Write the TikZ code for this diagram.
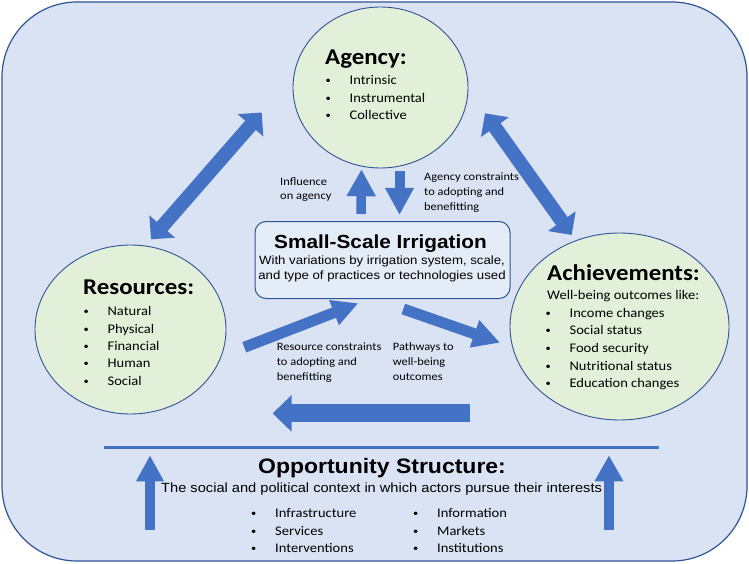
\documentclass[tikz,border=0pt]{standalone}
\usepackage{fontspec}
\setmainfont{Carlito}[FakeStretch=1.1]
\newfontfamily\arialfont{Liberation Sans}[FakeStretch=1.1]
\usetikzlibrary{arrows.meta,shapes.geometric}
\definecolor{framefill}{HTML}{DAE3F3}
\definecolor{frameline}{HTML}{2F5597}
\definecolor{bubblefill}{HTML}{E2F0D9}
\definecolor{boxfill}{HTML}{E4ECF8}
\definecolor{arrowblue}{HTML}{4472C4}
\newcommand{\itemdot}[1]{\makebox[25pt][l]{\hspace{1pt}\raisebox{1pt}{\fontsize{9.5}{9.5}\selectfont\textbullet}}#1}

\begin{document}
\begin{tikzpicture}[x=1pt,y=-1pt]
\tikzset{
  bubble/.style={ellipse,draw=frameline,fill=bubblefill,line width=0.9pt,inner sep=0pt},
  ssibox/.style={rectangle,rounded corners=11pt,draw=frameline,fill=boxfill,line width=1pt},
  headtext/.style={font=\fontsize{22.6}{26}\selectfont\bfseries,anchor=base west,inner sep=0pt},
  listtext/.style={font=\fontsize{13.2}{17.5}\selectfont,align=left,anchor=base west,inner sep=0pt},
  smalllabel/.style={font=\fontsize{11.3}{14.8}\selectfont,align=left,anchor=base west,inner sep=0pt},
  blockarrow/.style n args={3}{arrowblue,line width=#1,-{Triangle[width=#2,length=#3]}},
  twoheaded/.style n args={3}{arrowblue,line width=#1,{Triangle[width=#2,length=#3]}-{Triangle[width=#2,length=#3]}}
}
\useasboundingbox (0,0) rectangle (749,564);
\draw[draw=frameline,fill=framefill,line width=1.2pt,rounded corners=75pt] (2,2) rectangle (747,561);

% the four boxes
\node[bubble,minimum width=175pt,minimum height=161pt] (n_ag) at (380.5,87.5) {};
\node[bubble,minimum width=191pt,minimum height=169pt] (n_res) at (130.5,329.5) {};
\node[bubble,minimum width=219pt,minimum height=187pt] (n_ach) at (619.5,326.5) {};
\node[ssibox,minimum width=255pt,minimum height=77pt] (n_ssi) at (382.5,260) {};

% arrow ends
\coordinate (c_ra_lo) at (151,239.3);
\coordinate (c_ra_hi) at (261.7,112.5);
\coordinate (c_aa_hi) at (485,113.3);
\coordinate (c_aa_lo) at (571.7,235);
\coordinate (c_up_a) at (361,214);
\coordinate (c_up_b) at (361.5,169.3);
\coordinate (c_dn_a) at (399.5,170.7);
\coordinate (c_dn_b) at (399.5,215);
\coordinate (c_rs_a) at (244.3,347.3);
\coordinate (c_rs_b) at (358.3,303.3);
\coordinate (c_sa_a) at (403.3,309);
\coordinate (c_sa_b) at (500,342.7);
\coordinate (c_back_a) at (470,413.4);
\coordinate (c_back_b) at (272.6,413.4);
\coordinate (c_opl_a) at (150,530);
\coordinate (c_opl_b) at (150,455.3);
\coordinate (c_opr_a) at (609,530);
\coordinate (c_opr_b) at (609,455.3);

\draw[twoheaded={14pt}{33pt}{17pt}] (c_ra_lo) -- (c_ra_hi);
\draw[twoheaded={14pt}{33pt}{17pt}] (c_aa_hi) -- (c_aa_lo);
\draw[blockarrow={9.5pt}{27.5pt}{27pt}] (c_up_a) -- (c_up_b);
\draw[blockarrow={10pt}{27pt}{27pt}] (c_dn_a) -- (c_dn_b);
\draw[blockarrow={11pt}{25pt}{26pt}] (c_rs_a) -- (c_rs_b);
\draw[blockarrow={11pt}{27pt}{27pt}] (c_sa_a) -- (c_sa_b);
\draw[blockarrow={18pt}{35.5pt}{19pt}] (c_back_a) -- (c_back_b);
\draw[blockarrow={10.5pt}{26pt}{26pt}] (c_opl_a) -- (c_opl_b);
\draw[blockarrow={10.5pt}{27pt}{26pt}] (c_opr_a) -- (c_opr_b);
\draw[arrowblue,line width=3pt] (104,447) -- (659,447);

% texts (multi-line nodes sit on their last baseline)
\node[headtext] (t_ag) at (325,65) {Agency:};
\node[listtext] (l_ag) at (324.4,120) {\itemdot{Intrinsic}\\\itemdot{Instrumental}\\\itemdot{Collective}};
\node[headtext] (t_res) at (83,294) {Resources:};
\node[listtext,font=\fontsize{13.2}{17.4}\selectfont] (l_res) at (82.4,385.3) {\itemdot{Natural}\\\itemdot{Physical}\\\itemdot{Financial}\\\itemdot{Human}\\\itemdot{Social}};
\node[headtext] (t_ach) at (547,280) {Achievements:};
\node[listtext] (s_ach) at (547,299) {Well-being outcomes like:};
\node[listtext,font=\fontsize{13.2}{17.6}\selectfont] (l_ach) at (544.4,387.7) {\itemdot{Income changes}\\\itemdot{Social status}\\\itemdot{Food security}\\\itemdot{Nutritional status}\\\itemdot{Education changes}};

\node[font=\arialfont\fontsize{18.9}{22}\selectfont\bfseries,anchor=base,inner sep=0pt] (t_ssi) at (380.5,248.3) {Small-Scale Irrigation};
\node[font=\arialfont\fontsize{12}{15}\selectfont,align=center,anchor=base,inner sep=0pt] (s_ssi) at (382,279.3) {With variations by irrigation system, scale,\\and type of practices or technologies used};

\node[smalllabel] (lab_infl) at (280,200) {Influence\\on agency};
\node[smalllabel] (lab_agc) at (424,210) {Agency constraints\\to adopting and\\benefitting};
\node[smalllabel] (lab_resc) at (276.7,380) {Resource constraints\\to adopting and\\benefitting};
\node[smalllabel] (lab_path) at (392.7,380) {Pathways to\\well-being\\outcomes};

\node[font=\arialfont\fontsize{20.9}{24}\selectfont\bfseries,anchor=base,inner sep=0pt] (t_opp) at (382,473.2) {Opportunity Structure:};
\node[font=\arialfont\fontsize{13.3}{16}\selectfont,anchor=base,inner sep=0pt] (s_opp) at (381.6,492.9) {The social and political context in which actors pursue their interests};
\node[listtext,font=\fontsize{13.2}{17.8}\selectfont] (l_opp1) at (250,552.9) {\itemdot{Infrastructure}\\\itemdot{Services}\\\itemdot{Interventions}};
\node[listtext,font=\fontsize{13.2}{17.8}\selectfont] (l_opp2) at (411.9,552.9) {\itemdot{Information}\\\itemdot{Markets}\\\itemdot{Institutions}};
\end{tikzpicture}
\end{document}
